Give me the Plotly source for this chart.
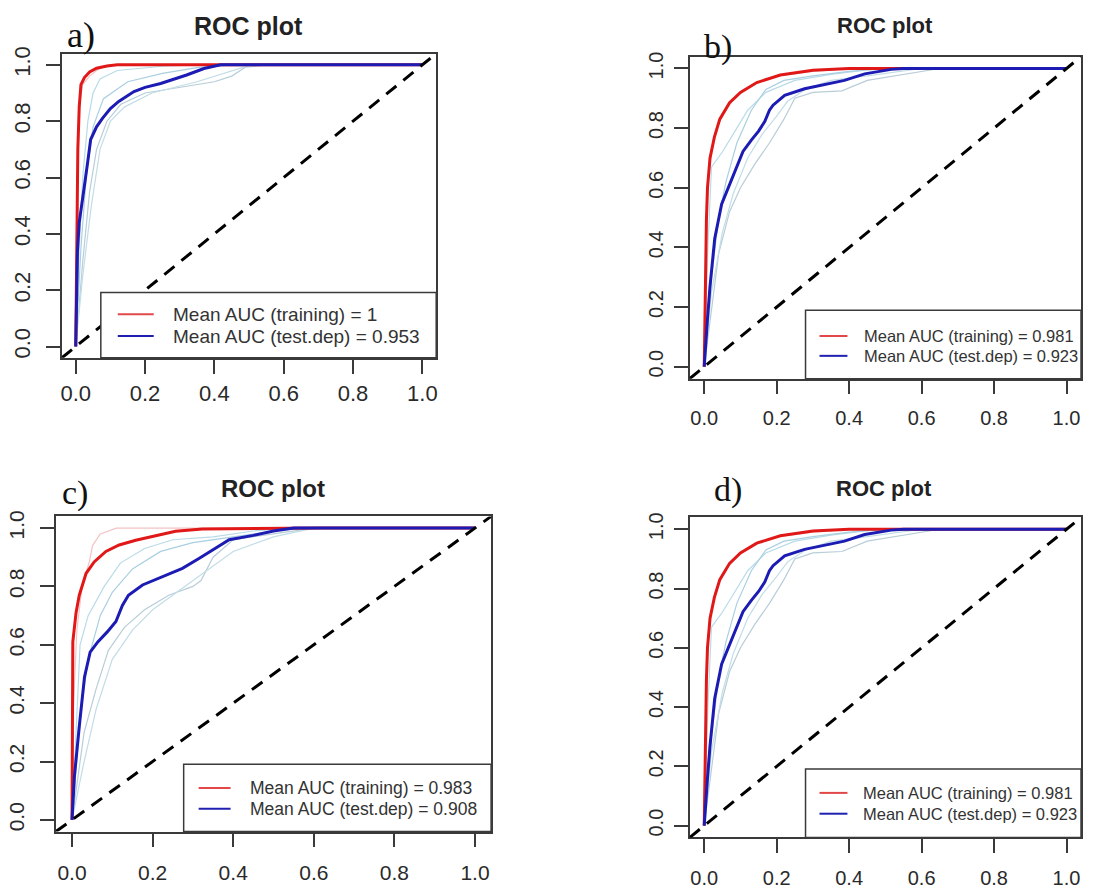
import plotly.graph_objects as go

W, H = 1095, 893

# ---------------- data ----------------
TICKS = [0.0, 0.2, 0.4, 0.6, 0.8, 1.0]
TICK_LABELS = ["0.0", "0.2", "0.4", "0.6", "0.8", "1.0"]
TITLE = "ROC plot"
PANEL_LABELS = ["a)", "b)", "c)", "d)"]
LEG_TRAIN = ["Mean AUC (training) = 1", "Mean AUC (training) = 0.981",
             "Mean AUC (training) = 0.983", "Mean AUC (training) = 0.981"]
LEG_TEST = ["Mean AUC (test.dep) = 0.953", "Mean AUC (test.dep) = 0.923",
            "Mean AUC (test.dep) = 0.908", "Mean AUC (test.dep) = 0.923"]

# panel a
a_train_x = [0, 0.002, 0.004, 0.006, 0.01, 0.015, 0.025, 0.04, 0.06, 0.09, 0.12, 1]
a_train_y = [0, 0.2, 0.45, 0.7, 0.85, 0.93, 0.955, 0.975, 0.988, 0.996, 1.0, 1]
a_test_x = [0, 0.003, 0.005, 0.01, 0.018, 0.026, 0.035, 0.043, 0.06, 0.077, 0.1, 0.124,
            0.168, 0.2, 0.245, 0.32, 0.37, 0.418, 1]
a_test_y = [0, 0.2, 0.34, 0.44, 0.52, 0.58, 0.66, 0.735, 0.78, 0.81, 0.845, 0.87,
            0.905, 0.92, 0.934, 0.964, 0.987, 1.0, 1]
a_trrep_x = [0, 0.003, 0.01, 0.02, 0.04, 0.06, 0.08, 0.1, 1]
a_trrep_y = [0, 0.5, 0.85, 0.93, 0.96, 0.98, 0.995, 1, 1]
a_rep1_x = [0, 0.01, 0.02, 0.035, 0.05, 0.07, 0.12, 0.25, 0.35, 1]
a_rep1_y = [0, 0.35, 0.6, 0.8, 0.9, 0.95, 0.98, 0.995, 1, 1]
a_rep2_x = [0, 0.015, 0.03, 0.05, 0.08, 0.15, 0.25, 0.35, 0.45, 1]
a_rep2_y = [0, 0.35, 0.6, 0.78, 0.88, 0.94, 0.97, 0.99, 1, 1]
a_rep3_x = [0, 0.02, 0.04, 0.06, 0.09, 0.13, 0.2, 0.3, 0.4, 0.45, 0.5, 1]
a_rep3_y = [0, 0.3, 0.55, 0.7, 0.8, 0.86, 0.9, 0.92, 0.94, 0.96, 1, 1]
a_rep4_x = [0, 0.02, 0.045, 0.07, 0.1, 0.14, 0.22, 0.35, 0.48, 0.55, 1]
a_rep4_y = [0, 0.25, 0.5, 0.7, 0.8, 0.85, 0.9, 0.94, 0.99, 1, 1]

# panel b
b_train_x = [0, 0.002, 0.004, 0.006, 0.009, 0.016, 0.028, 0.043, 0.07, 0.1, 0.145, 0.21, 0.3, 0.4, 1]
b_train_y = [0, 0.2, 0.35, 0.49, 0.6, 0.7, 0.77, 0.83, 0.885, 0.92, 0.953, 0.978, 0.994, 1, 1]
b_test_x = [0, 0.004, 0.009, 0.016, 0.029, 0.048, 0.066, 0.084, 0.107, 0.13, 0.15, 0.167,
            0.18, 0.19, 0.222, 0.277, 0.332, 0.387, 0.443, 0.516, 0.55, 1]
b_test_y = [0, 0.08, 0.16, 0.27, 0.43, 0.545, 0.6, 0.656, 0.722, 0.76, 0.79, 0.822,
            0.86, 0.877, 0.91, 0.932, 0.945, 0.96, 0.982, 0.997, 1, 1]
b_trrep_x = [0, 0.005, 0.012, 0.025, 0.05, 0.09, 0.14, 0.2, 0.3, 0.4, 1]
b_trrep_y = [0, 0.45, 0.65, 0.76, 0.85, 0.91, 0.95, 0.975, 0.99, 1, 1]
b_rep1_x = [0, 0.01, 0.02, 0.05, 0.08, 0.12, 0.17, 0.25, 0.35, 0.45, 0.55, 1]
b_rep1_y = [0, 0.4, 0.67, 0.72, 0.78, 0.86, 0.92, 0.96, 0.98, 0.995, 1, 1]
b_rep2_x = [0, 0.02, 0.04, 0.06, 0.09, 0.13, 0.17, 0.22, 0.3, 0.4, 0.5, 1]
b_rep2_y = [0, 0.3, 0.5, 0.62, 0.75, 0.86, 0.93, 0.96, 0.975, 0.99, 1, 1]
b_rep3_x = [0, 0.02, 0.04, 0.07, 0.1, 0.14, 0.18, 0.22, 0.25, 0.3, 0.38, 0.45, 0.55, 0.65, 1]
b_rep3_y = [0, 0.2, 0.38, 0.52, 0.6, 0.68, 0.75, 0.83, 0.9, 0.92, 0.925, 0.96, 0.98, 1, 1]
b_rep4_x = [0, 0.02, 0.05, 0.08, 0.12, 0.16, 0.2, 0.23, 0.28, 0.35, 0.45, 0.55, 0.6, 1]
b_rep4_y = [0, 0.25, 0.45, 0.58, 0.7, 0.78, 0.84, 0.89, 0.93, 0.96, 0.975, 0.99, 1, 1]

# panel c
c_train_x = [0, 0.001, 0.002, 0.01, 0.018, 0.035, 0.055, 0.084, 0.117, 0.158, 0.208, 0.257, 0.323, 0.62, 1]
c_train_y = [0, 0.3, 0.61, 0.71, 0.77, 0.845, 0.884, 0.92, 0.942, 0.958, 0.975, 0.989, 0.997, 1, 1]
c_test_x = [0, 0.006, 0.018, 0.031, 0.045, 0.064, 0.088, 0.109, 0.125, 0.14, 0.175, 0.224,
            0.274, 0.315, 0.356, 0.39, 0.45, 0.5, 0.55, 1]
c_test_y = [0, 0.15, 0.32, 0.49, 0.575, 0.61, 0.645, 0.68, 0.735, 0.77, 0.805, 0.833,
            0.862, 0.896, 0.93, 0.96, 0.975, 0.99, 1, 1]
c_trrep_x = [0, 0.004, 0.012, 0.025, 0.043, 0.051, 0.07, 0.11, 1]
c_trrep_y = [0, 0.4, 0.65, 0.8, 0.885, 0.94, 0.98, 1, 1]
c_rep1_x = [0, 0.01, 0.02, 0.04, 0.08, 0.12, 0.18, 0.25, 0.35, 0.45, 0.55, 1]
c_rep1_y = [0, 0.3, 0.6, 0.7, 0.8, 0.88, 0.93, 0.96, 0.97, 0.99, 1, 1]
c_rep2_x = [0, 0.02, 0.04, 0.07, 0.1, 0.15, 0.22, 0.3, 0.4, 0.5, 0.58, 1]
c_rep2_y = [0, 0.35, 0.55, 0.7, 0.78, 0.86, 0.92, 0.95, 0.97, 0.99, 1, 1]
c_rep3_x = [0, 0.03, 0.06, 0.09, 0.13, 0.18, 0.24, 0.3, 0.32, 0.35, 0.4, 0.5, 0.6, 1]
c_rep3_y = [0, 0.3, 0.45, 0.58, 0.66, 0.72, 0.77, 0.8, 0.82, 0.9, 0.96, 0.98, 1, 1]
c_rep4_x = [0, 0.03, 0.06, 0.1, 0.15, 0.2, 0.26, 0.32, 0.4, 0.5, 0.6, 1]
c_rep4_y = [0, 0.2, 0.38, 0.55, 0.65, 0.72, 0.78, 0.84, 0.92, 0.97, 1, 1]

# panel d (same run as panel b)
d_train_x, d_train_y = list(b_train_x), list(b_train_y)
d_test_x, d_test_y = list(b_test_x), list(b_test_y)
d_trrep_x, d_trrep_y = list(b_trrep_x), list(b_trrep_y)
d_rep1_x, d_rep1_y = list(b_rep1_x), list(b_rep1_y)
d_rep2_x, d_rep2_y = list(b_rep2_x), list(b_rep2_y)
d_rep3_x, d_rep3_y = list(b_rep3_x), list(b_rep3_y)
d_rep4_x, d_rep4_y = list(b_rep4_x), list(b_rep4_y)

PANELS = [
    dict(train=(a_train_x, a_train_y), test=(a_test_x, a_test_y), trrep=(a_trrep_x, a_trrep_y),
         reps=[(a_rep1_x, a_rep1_y), (a_rep2_x, a_rep2_y), (a_rep3_x, a_rep3_y), (a_rep4_x, a_rep4_y)]),
    dict(train=(b_train_x, b_train_y), test=(b_test_x, b_test_y), trrep=(b_trrep_x, b_trrep_y),
         reps=[(b_rep1_x, b_rep1_y), (b_rep2_x, b_rep2_y), (b_rep3_x, b_rep3_y), (b_rep4_x, b_rep4_y)]),
    dict(train=(c_train_x, c_train_y), test=(c_test_x, c_test_y), trrep=(c_trrep_x, c_trrep_y),
         reps=[(c_rep1_x, c_rep1_y), (c_rep2_x, c_rep2_y), (c_rep3_x, c_rep3_y), (c_rep4_x, c_rep4_y)]),
    dict(train=(d_train_x, d_train_y), test=(d_test_x, d_test_y), trrep=(d_trrep_x, d_trrep_y),
         reps=[(d_rep1_x, d_rep1_y), (d_rep2_x, d_rep2_y), (d_rep3_x, d_rep3_y), (d_rep4_x, d_rep4_y)]),
]

# ---------------- styling / layout (pixels of the page) ----------------
SANS = "Liberation Sans, Arial, sans-serif"
SERIF = "Liberation Serif, Times New Roman, serif"
BOX = "#3a3a3a"
RED = "#e01818"
BLUE = "#1c1cb4"
REP_COLORS = ["#b9dbe8", "#a9cfe0", "#b8cdd8", "#c2dde6"]
TRREP_COLOR = "#f3c4c4"

# box (left, top, right, bottom) in px
BOXES = [(61, 47, 436, 354), (690, 50, 1082, 375), (55, 514, 491, 832), (690, 515, 1082, 838)]
TICK_SIZE = [22, 20, 21, 20]
TITLE_POS = [(248, 19, 25), (886, 19, 22), (272, 486, 24), (885, 486, 22)]
LABEL_POS = [(80, 28, 36), (718, 40, 34), (74, 490, 34), (728, 487, 34)]
# legend: left, top, line x0, line x1, text x, row1 y, row2 y, size
LEGENDS = [
    (100, 288, 117, 153, 170, 310, 332, 19),
    (806, 306, 820, 848, 863, 332, 352, 16.5),
    (183, 764, 198, 230, 247, 788, 809, 17.5),
    (806, 769, 820, 848, 862, 793, 814, 16.5),
]
XSTAND = [1, 7, 8, 8]
YSTAND = [7, 3, 8, 3]


def px(x):
    return x / W


def py(y):
    return 1 - y / H


fig = go.Figure()
layout = dict(width=W, height=H, margin=dict(l=0, r=0, t=0, b=0),
              paper_bgcolor="white", plot_bgcolor="white", showlegend=False)
shapes, annotations = [], []

for i, p in enumerate(PANELS):
    xa = "x" if i == 0 else f"x{i + 1}"
    ya = "y" if i == 0 else f"y{i + 1}"
    L, T, R, B = BOXES[i]
    common = dict(range=[-0.04, 1.04], tickvals=TICKS, ticktext=TICK_LABELS, showgrid=False,
                  zeroline=False, showline=True, mirror=True, linecolor=BOX, linewidth=1.5,
                  ticks="outside", ticklen=14, tickwidth=1.5, tickcolor=BOX,
                  tickfont=dict(family=SANS, size=TICK_SIZE[i], color="#2a2a2a"), fixedrange=True)
    layout["xaxis" if i == 0 else f"xaxis{i + 1}"] = dict(
        common, domain=[px(L), px(R)], anchor=ya, ticklabelstandoff=XSTAND[i])
    layout["yaxis" if i == 0 else f"yaxis{i + 1}"] = dict(
        common, domain=[py(B), py(T)], anchor=xa, tickangle=-90, ticklabelstandoff=YSTAND[i])

    for k, (rx, ry) in enumerate(p["reps"]):
        fig.add_trace(go.Scatter(x=rx, y=ry, mode="lines", xaxis=xa, yaxis=ya,
                                 line=dict(color=REP_COLORS[k], width=1.2), hoverinfo="skip"))
    tx, ty = p["trrep"]
    fig.add_trace(go.Scatter(x=tx, y=ty, mode="lines", xaxis=xa, yaxis=ya,
                             line=dict(color=TRREP_COLOR, width=1.2), hoverinfo="skip"))
    fig.add_trace(go.Scatter(x=p["train"][0], y=p["train"][1], mode="lines", xaxis=xa, yaxis=ya,
                             line=dict(color=RED, width=3), name="training"))
    fig.add_trace(go.Scatter(x=p["test"][0], y=p["test"][1], mode="lines", xaxis=xa, yaxis=ya,
                             line=dict(color=BLUE, width=3), name="test.dep"))

    # y = x reference line across the whole plot region
    shapes.append(dict(type="line", xref=xa, yref=ya, x0=-0.04, y0=-0.04, x1=1.04, y1=1.04,
                       line=dict(color="black", width=3, dash="13px,9px"), layer="above"))

    # legend box
    lL, lT, lx0, lx1, ltx, r1, r2, lfs = LEGENDS[i]
    shapes.append(dict(type="rect", xref="paper", yref="paper", x0=px(lL), y0=py(B), x1=px(R), y1=py(lT),
                       fillcolor="white", line=dict(color=BOX, width=1.5), layer="above"))
    shapes.append(dict(type="line", xref="paper", yref="paper", x0=px(lx0), x1=px(lx1), y0=py(r1), y1=py(r1),
                       line=dict(color="#e24848", width=2), layer="above"))
    shapes.append(dict(type="line", xref="paper", yref="paper", x0=px(lx0), x1=px(lx1), y0=py(r2), y1=py(r2),
                       line=dict(color="#2020b0", width=2), layer="above"))
    for txt, yy in ((LEG_TRAIN[i], r1), (LEG_TEST[i], r2)):
        annotations.append(dict(text=txt, xref="paper", yref="paper", x=px(ltx), y=py(yy),
                                xanchor="left", yanchor="middle", showarrow=False,
                                font=dict(family=SANS, size=lfs, color="#333333")))

    tx_, ty_, tfs = TITLE_POS[i]
    annotations.append(dict(text="<b>" + TITLE + "</b>", xref="paper", yref="paper", x=px(tx_), y=py(ty_),
                            xanchor="center", yanchor="middle", showarrow=False,
                            font=dict(family=SANS, size=tfs, color="#222222")))
    lx_, ly_, lfs2 = LABEL_POS[i]
    annotations.append(dict(text=PANEL_LABELS[i], xref="paper", yref="paper", x=px(lx_), y=py(ly_),
                            xanchor="center", yanchor="middle", showarrow=False,
                            font=dict(family=SERIF, size=lfs2, color="#111111")))

layout["shapes"] = shapes
layout["annotations"] = annotations
fig.update_layout(**layout)
fig.write_html("out.html", config={"displayModeBar": False},
               post_script="document.body.style.margin='0';document.body.style.overflow='hidden';")
